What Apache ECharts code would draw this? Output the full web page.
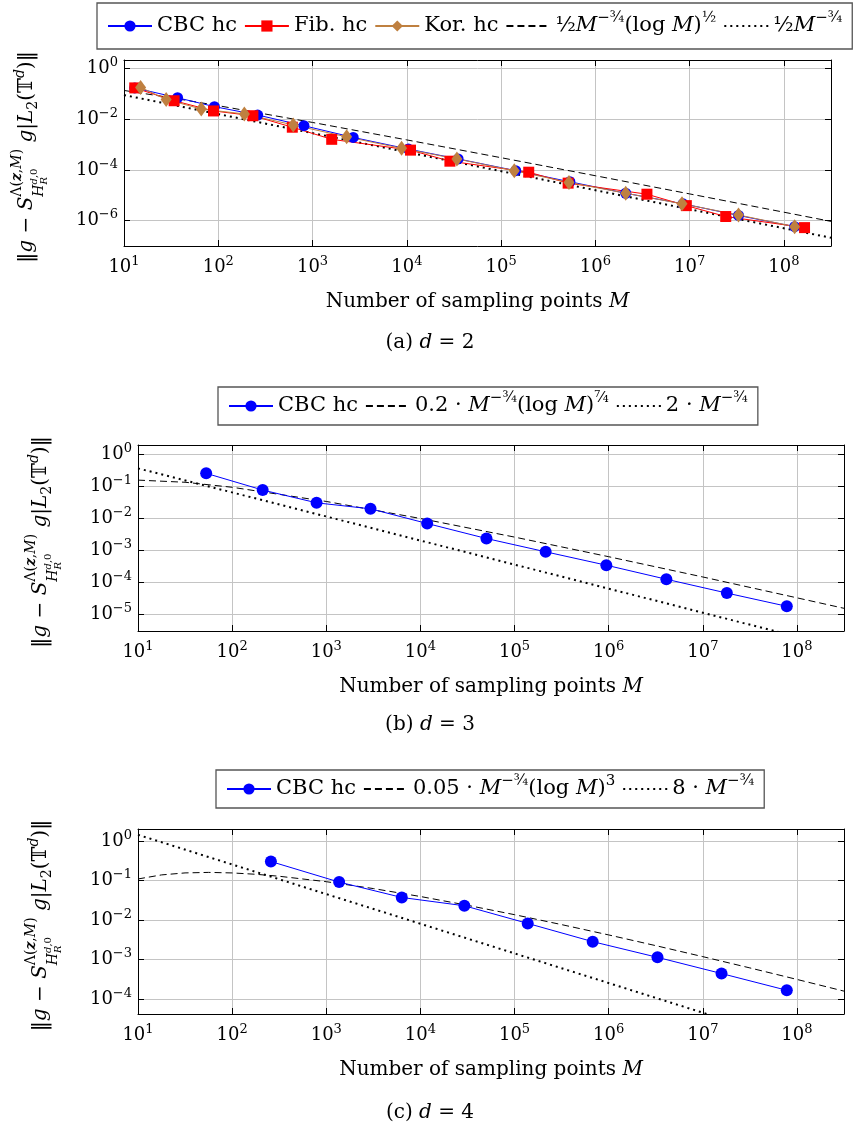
<!DOCTYPE html>
<html><head><meta charset="utf-8">
<script src="https://cdn.jsdelivr.net/npm/echarts@6/dist/echarts.min.js"></script>
<style>html,body{margin:0;padding:0;background:#fff}#c{width:853px;height:1131px}</style>
</head><body><div id="c"></div>
<script>
// ---------------- data ----------------
// Panel (a) d = 2
const cbcA_M   = [13, 37, 91, 262, 811, 2700, 10400, 35000, 143000, 537000, 2.1e6, 8.5e6, 3.3e7, 1.3e8];
const cbcA_err = [0.17, 0.0696, 0.031, 0.0145, 0.0055, 0.0019, 6.6e-4, 2.7e-4, 9.3e-5, 3.4e-5, 1.2e-5, 4.6e-6, 1.6e-6, 5.8e-7];
const fibA_M   = [13, 34, 89, 233, 610, 1597, 10946, 28657, 196418, 514229, 3524578, 9227465, 24157817, 165580141];
const fibA_err = [0.17, 0.053, 0.021, 0.0136, 0.0048, 0.0016, 6.0e-4, 2.2e-4, 8.1e-5, 3.0e-5, 1.1e-5, 3.9e-6, 1.45e-6, 5.3e-7];
const korA_M   = [15, 28, 66, 189, 624, 2300, 8800, 34000, 138000, 525000, 2.1e6, 8.3e6, 3.3e7, 1.3e8];
const korA_err = [0.178, 0.060, 0.025, 0.016, 0.0059, 0.0020, 7.1e-4, 2.7e-4, 9.3e-5, 3.2e-5, 1.2e-5, 4.6e-6, 1.67e-6, 5.8e-7];
const dashA_M   = [10, 31.6, 100, 1000, 1e4, 1e5, 1e6, 1e7, 1e8, 3.16e8];
const dashA_err = [0.1349, 0.0697, 0.0339, 0.00739, 0.001517, 3.02e-4, 5.88e-5, 1.13e-5, 2.15e-6, 9.33e-7];
const dotA_M    = [10, 3.16e8];
const dotA_err  = [0.0889, 2.11e-7];

// Panel (b) d = 3
const cbcB_M   = [53, 211, 789, 2950, 11800, 50300, 214000, 944000, 4.1e6, 1.8e7, 7.8e7];
const cbcB_err = [0.249, 0.075, 0.030, 0.0195, 0.0068, 0.00231, 8.9e-4, 3.4e-4, 1.24e-4, 4.6e-5, 1.78e-5];
const dashB_M   = [10, 31.6, 100, 1000, 1e4, 1e5, 1e6, 1e7, 1e8, 3.16e8];
const dashB_err = [0.1531, 0.1313, 0.0916, 0.0331, 0.00974, 0.00256, 6.26e-4, 1.46e-4, 3.27e-5, 1.54e-5];
const dotB_M    = [10, 3.16e8];
const dotB_err  = [0.3557, 8.43e-7];

// Panel (c) d = 4
const cbcC_M   = [258, 1370, 6340, 29300, 138000, 676000, 3.3e6, 1.58e7, 7.8e7];
const cbcC_err = [0.30, 0.0906, 0.037, 0.0228, 0.00816, 0.00282, 0.00113, 4.4e-4, 1.66e-4];
const dashC_M   = [10, 17.8, 31.6, 56.2, 100, 178, 316, 1000, 3160, 1e4, 3.16e4, 1e5, 3.16e5, 1e6, 3.16e6, 1e7, 3.16e7, 1e8, 3.16e8];
const dashC_err = [0.1086, 0.1377, 0.1545, 0.1593, 0.1544, 0.1428, 0.1272, 0.0927, 0.0621, 0.0391, 0.02345, 0.01357, 0.00761, 0.00417, 0.002236, 0.001177, 6.11e-4, 3.125e-4, 1.58e-4];
const dotC_M    = [10, 3.16e8];
const dotC_err  = [1.423, 3.37e-6];

// axis ranges
const xMin = 10, xMax = 3.16e8;
const yRangeA = [1e-7, 2.138];
const yRangeB = [3.02e-6, 1.905];
const yRangeC = [4.17e-5, 1.995];

const xTitle = 'Number of sampling points {it|M}';
const captions = ['(a) {it|d} = 2', '(b) {it|d} = 3', '(c) {it|d} = 4'];
const legendText = {
  'dashA': '{fr|½}{it|M}{sup|−¾}(log {it|M}){sup|½}',
  'dotA':  '{fr|½}{it|M}{sup|−¾}',
  'dashB': '0.2 · {it|M}{sup|−¾}(log {it|M}){sup|⁷⁄₄}',
  'dotB':  '2 · {it|M}{sup|−¾}',
  'dashC': '0.05 · {it|M}{sup|−¾}(log {it|M}){sup|3}',
  'dotC':  '8 · {it|M}{sup|−¾}'
};

// ---------------- layout / style ----------------
const FONT = 'DejaVu Serif';
const LFS = 21;
const BLUE = '#0000ff', RED = '#ff0000', BROWN = '#bf8040';
const panels = [
  {left:124, top:60,  width:707, height:186, yr:yRangeA, ylog:100, ylabX:27, capY:343, legend:{left:97, top:3}},
  {left:138, top:445, width:706, height:186, yr:yRangeB, ylog:10,  ylabX:41, capY:725, legend:{left:218, top:387}},
  {left:138, top:829, width:706, height:185, yr:yRangeC, ylog:10,  ylabX:41, capY:1113, legend:{left:216, top:770}}
];

function tickFmt(v) {
  const e = Math.log10(v), r = Math.round(e);
  if (Math.abs(e - r) > 1e-6) return '';
  return '10{sup|' + (r < 0 ? '−' + (-r) : r) + '}';
}
const labelRich = {
  sup: {fontFamily: FONT, fontSize: 13, lineHeight: 13, verticalAlign: 'top', color: '#000'}
};
const frameLine = {show: true, onZero: false, lineStyle: {color: '#000', width: 1}};
const tickIn = {show: true, inside: true, length: 6, lineStyle: {color: '#000', width: 1}};
const gridLine = {show: true, lineStyle: {color: '#c4c4c4', width: 1}};

const grids = [], xAxes = [], yAxes = [], series = [], legends = [], graphics = [];

panels.forEach((p, i) => {
  grids.push({left: p.left, top: p.top, width: p.width, height: p.height, containLabel: false, outerBoundsMode: 'none'});
  const xBase = {type: 'log', logBase: 10, gridIndex: i, min: xMin, max: xMax};
  xAxes.push(Object.assign({}, xBase, {position: 'bottom',
    axisLine: frameLine, axisTick: tickIn, splitLine: gridLine,
    axisLabel: {formatter: tickFmt, margin: 9, fontFamily: FONT, fontSize: 18, color: '#000', lineHeight: 24, rich: labelRich},
    name: xTitle, nameLocation: 'middle', nameGap: 46,
    nameTextStyle: {fontFamily: FONT, fontSize: 20, color: '#000', rich: {it: {fontFamily: FONT, fontSize: 20, fontStyle: 'italic', color: '#000'}}}
  }));
  xAxes.push(Object.assign({}, xBase, {position: 'top',
    axisLine: frameLine, axisTick: tickIn, splitLine: {show: false}, axisLabel: {show: false}}));

  const yBase = {type: 'log', logBase: p.ylog, gridIndex: i, min: p.yr[0], max: p.yr[1]};
  yAxes.push(Object.assign({}, yBase, {position: 'left',
    axisLine: frameLine, axisTick: tickIn, splitLine: gridLine,
    axisLabel: {formatter: tickFmt, margin: 6, showMinLabel: false, showMaxLabel: false, fontFamily: FONT, fontSize: 18, color: '#000', lineHeight: 24, rich: labelRich}}));
  yAxes.push(Object.assign({}, yBase, {position: 'right',
    axisLine: frameLine, axisTick: tickIn, splitLine: {show: false}, axisLabel: {show: false}}));
});

function pts(xs, ys) { return xs.map((x, k) => [x, ys[k]]); }
function refLine(name, i, xs, ys, dotted) {
  series.push({name, type: 'line', xAxisIndex: 2 * i, yAxisIndex: 2 * i, data: pts(xs, ys),
    symbol: 'none', silent: true, clip: true, z: 1,
    lineStyle: dotted ? {color: '#000', width: 2, type: [2, 4], cap: 'butt'} : {color: '#000', width: 1, type: [7, 4]},
    itemStyle: {color: '#000'}});
}
function dataLine(name, i, xs, ys, color, symbol, size) {
  series.push({name, type: 'line', xAxisIndex: 2 * i, yAxisIndex: 2 * i, data: pts(xs, ys),
    symbol, symbolSize: size, showSymbol: true, silent: true, z: 3,
    lineStyle: {color, width: 1}, itemStyle: {color}});
}

refLine('dashA', 0, dashA_M, dashA_err, false);
refLine('dotA', 0, dotA_M, dotA_err, true);
dataLine('CBC hc', 0, cbcA_M, cbcA_err, BLUE, 'circle', 11);
dataLine('Fib. hc', 0, fibA_M, fibA_err, RED, 'rect', 11);
dataLine('Kor. hc', 0, korA_M, korA_err, BROWN, 'diamond', [11, 15]);

refLine('dashB', 1, dashB_M, dashB_err, false);
refLine('dotB', 1, dotB_M, dotB_err, true);
dataLine('CBC hc', 1, cbcB_M, cbcB_err, BLUE, 'circle', 12);

refLine('dashC', 2, dashC_M, dashC_err, false);
refLine('dotC', 2, dotC_M, dotC_err, true);
dataLine('CBC hc', 2, cbcC_M, cbcC_err, BLUE, 'circle', 12);

const legendRich = {
  it:  {fontFamily: FONT, fontSize: LFS, fontStyle: 'italic', color: '#000', lineHeight: 30},
  fr:  {fontFamily: FONT, fontSize: LFS, color: '#000', lineHeight: 30},
  sup: {fontFamily: FONT, fontSize: 15, color: '#000', lineHeight: 15, verticalAlign: 'top'}
};
const legendData = [
  ['CBC hc', 'Fib. hc', 'Kor. hc', 'dashA', 'dotA'],
  ['CBC hc', 'dashB', 'dotB'],
  ['CBC hc', 'dashC', 'dotC']
];
panels.forEach((p, i) => {
  legends.push({left: p.legend.left, top: p.legend.top, orient: 'horizontal',
    padding: i === 0 ? [8, 10, 8, 10] : [4, 10, 4, 10],
    itemWidth: 44, itemHeight: 14, itemGap: 7, selectedMode: false,
    borderColor: '#555', borderWidth: 1.3, borderRadius: 0, backgroundColor: '#fff',
    data: legendData[i].map(n => (n.indexOf('dash') === 0 || n.indexOf('dot') === 0)
      ? {name: n, itemStyle: {opacity: 0, color: 'transparent', borderWidth: 0}} : n),
    formatter: n => legendText[n] || n,
    textStyle: {fontFamily: FONT, fontSize: LFS, color: '#000', lineHeight: 30, rich: legendRich}});
});

// ---------- rotated y-axis label built from text runs ----------
const mctx = document.createElement('canvas').getContext('2d');
function fontStr(r) { return (r.it ? 'italic ' : '') + (r.b ? 'bold ' : '') + r.s + 'px "' + FONT + '"'; }
const Y_RUNS = [
  {t: '‖'}, {t: 'g', it: 1}, {t: ' − '}, {t: 'S', it: 1},
  {stack: 1, supDy: -12,
    sup: [{t: 'Λ(', s: 14}, {t: 'z', s: 14, it: 1, b: 1}, {t: ',', s: 14}, {t: 'M', s: 14, it: 1}, {t: ')', s: 14}],
    subDy: 10,
    sub: [{t: 'H', s: 14, it: 1}, {stack: 1, supDy: -6, sup: [{t: 'd', s: 10, it: 1}, {t: ',0', s: 10}], subDy: 4, sub: [{t: 'R', s: 10, it: 1}]}]},
  {t: ' g', it: 1}, {t: '|'}, {t: 'L', it: 1}, {t: '2', s: 14, dy: 4}, {t: '('}, {t: '𝕋'}, {t: 'd', s: 14, it: 1, dy: -9}, {t: ')‖'}
];
function layoutRuns(runs, x0, base, out) {
  let x = x0;
  runs.forEach(r => {
    if (r.stack) {
      const a = layoutRuns(r.sup, x, base + r.supDy, out);
      const b = layoutRuns(r.sub, x, base + r.subDy, out);
      x = Math.max(a, b);
    } else {
      const rr = Object.assign({s: 20}, r);
      const f = fontStr(rr);
      mctx.font = f;
      const w = mctx.measureText(r.t).width;
      const bl = base + (r.dy || 0);
      out.push({type: 'text', x: x, y: bl - 0.32 * rr.s, silent: true,
        style: {text: r.t, font: f, fill: '#000', align: 'left', verticalAlign: 'middle', textAlign: 'left', textVerticalAlign: 'middle'}});
      x += w;
    }
  });
  return x;
}
panels.forEach((p, i) => {
  const kids = [];
  const W = layoutRuns(Y_RUNS, 0, 6.4, kids);
  const cy = p.top + p.height / 2 + 4;
  graphics.push({type: 'group', x: p.ylabX, y: cy + W / 2, rotation: Math.PI / 2, children: kids, silent: true});
  graphics.push({type: 'text', x: 430, y: p.capY, silent: true,
    style: {text: captions[i], font: '20px "' + FONT + '"', fill: '#000', align: 'center', verticalAlign: 'middle', textAlign: 'center', textVerticalAlign: 'middle',
      rich: {it: {fontFamily: FONT, fontSize: 20, fontStyle: 'italic', fill: '#000', color: '#000'}}}});
});

const chart = echarts.init(document.getElementById('c'), null, {renderer: 'canvas'});
chart.setOption({
  backgroundColor: '#fff', animation: false,
  grid: grids, xAxis: xAxes, yAxis: yAxes, series, legend: legends, graphic: graphics,
  tooltip: {show: false}
});
</script></body></html>
